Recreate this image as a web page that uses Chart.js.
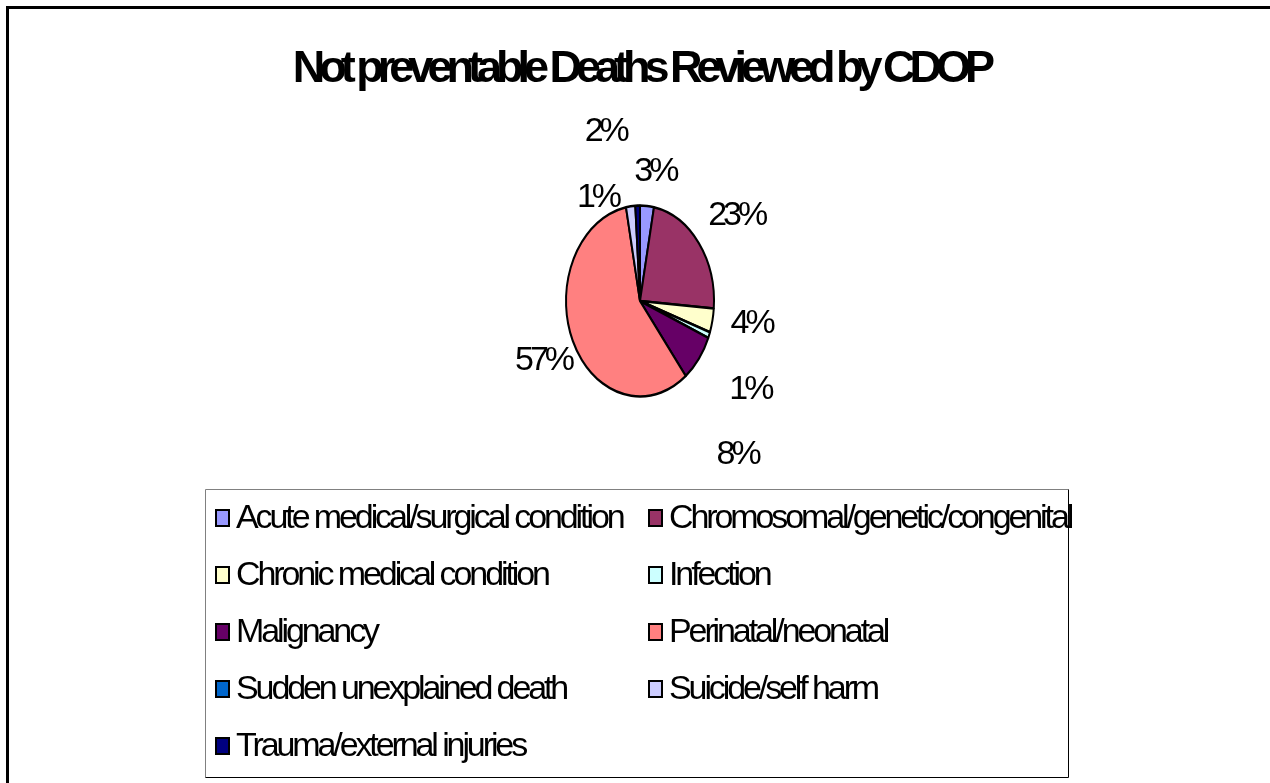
<!DOCTYPE html>
<html>
<head>
<meta charset="utf-8">
<script src="https://cdn.jsdelivr.net/npm/chart.js@4/dist/chart.umd.min.js"></script>
<style>
  html, body { margin: 0; padding: 0; background: #fff; }
  #wrap { width: 1270px; height: 783px; }
</style>
</head>
<body>
<div id="wrap"><canvas id="pieChart01"></canvas></div>
<script>
// CDOP not preventable deaths pie

const chartTitle = 'Not preventable Deaths Reviewed by CDOP';
const categories = [
    'Acute medical/surgical condition', 'Chromosomal/genetic/congenital',
    'Chronic medical condition', 'Infection', 'Malignancy', 'Perinatal/neonatal',
    'Sudden unexplained death', 'Suicide/self harm', 'Trauma/external injuries'
];
const percentValues = [3, 23, 4, 1, 8, 57, 0, 2, 1];
const sliceColors = ['#9999FF', '#993366', '#FFFFCC', '#CCFFFF', '#660066', '#FF8080', '#0066CC', '#CCCCFF', '#000080'];

// where excel dropped each % label: [angle shift in deg, distance as share of radius]
const labelPlace = [[3, 1.37], [2.6, 1.58], [-3, 1.52], [11, 1.75], [13.6, 2.08], [-0.8, 1.45], [0, 0], [-7.5, 1.84], [-26, 1.23]];

const FONT = '"Liberation Sans", Arial, sans-serif';
const Y_SCALE = 1.29;

function spacedText(ctx, text, x, y, spacing, align) {
    ctx.letterSpacing = spacing + 'px';
    ctx.textAlign = align || 'left';
    ctx.fillText(text, x, y);
    ctx.letterSpacing = '0px';
}

const framePlugin = {
    id: 'frame',
    beforeDraw(chart) {
        const ctx = chart.ctx;
        ctx.save();
        ctx.fillStyle = '#fff';
        ctx.fillRect(0, 0, chart.width, chart.height);
        ctx.strokeStyle = '#000';
        ctx.lineWidth = 3;
        ctx.beginPath();
        ctx.moveTo(7.5, chart.height);
        ctx.lineTo(7.5, 7.5);
        ctx.lineTo(chart.width, 7.5);
        ctx.stroke();
        ctx.fillStyle = '#000';
        ctx.font = 'bold 45px ' + FONT;
        ctx.textBaseline = 'middle';
        spacedText(ctx, chartTitle, 641, 70, -6, 'center');
        ctx.restore();
    }
};

// squash the round pie into the tall excel ellipse
const ellipsePlugin = {
    id: 'ellipse',
    beforeDatasetsDraw(chart) {
        const arc = chart.getDatasetMeta(0).data[0];
        const ctx = chart.ctx;
        ctx.save();
        ctx.translate(arc.x, arc.y);
        ctx.scale(1, Y_SCALE);
        ctx.translate(-arc.x, -arc.y);
    },
    afterDatasetsDraw(chart) {
        chart.ctx.restore();
    }
};

const pctLabelPlugin = {
    id: 'pctLabels',
    afterDatasetsDraw(chart) {
        const ctx = chart.ctx;
        const values = chart.data.datasets[0].data;
        ctx.save();
        ctx.fillStyle = '#000';
        ctx.font = '34px ' + FONT;
        ctx.textBaseline = 'middle';
        chart.getDatasetMeta(0).data.forEach((arc, i) => {
            if (!values[i]) return;
            const mid = (arc.startAngle + arc.endAngle) / 2 + labelPlace[i][0] * Math.PI / 180;
            const r = arc.outerRadius * labelPlace[i][1];
            const x = arc.x + Math.cos(mid) * r;
            const y = arc.y + Math.sin(mid) * r * Y_SCALE;
            spacedText(ctx, values[i] + '%', x, y, -4, 'center');
        });
        ctx.restore();
    }
};

const boxLegendPlugin = {
    id: 'boxLegend',
    afterDraw(chart) {
        const ctx = chart.ctx;
        const left = 205.5, top = 489.5, right = 1068.5, bottom = 777.5;
        ctx.save();
        ctx.lineWidth = 1;
        ctx.strokeStyle = '#808080';
        ctx.beginPath();
        ctx.moveTo(left, bottom); ctx.lineTo(left, top); ctx.lineTo(right, top);
        ctx.stroke();
        ctx.strokeStyle = '#000';
        ctx.beginPath();
        ctx.moveTo(right, top); ctx.lineTo(right, bottom); ctx.lineTo(left, bottom);
        ctx.stroke();

        ctx.font = '34px ' + FONT;
        ctx.textBaseline = 'middle';
        const colX = [216, 649];
        chart.data.labels.forEach((lab, i) => {
            const cx = colX[i % 2];
            const cy = 518 + Math.floor(i / 2) * 57;
            ctx.fillStyle = chart.data.datasets[0].backgroundColor[i];
            ctx.fillRect(cx, cy - 8, 13, 16);
            ctx.lineWidth = 2;
            ctx.strokeStyle = '#000';
            ctx.strokeRect(cx, cy - 8, 13, 16);
            ctx.fillStyle = '#000';
            spacedText(ctx, lab, cx + 20, cy + 1, -3.1, 'left');
        });
        ctx.restore();
    }
};

const chartE = document.getElementById('pieChart01');
const pieChart01 = new Chart(chartE, {
    type: 'pie',
    data: {
        labels: categories,
        datasets: [{
            data: percentValues,
            backgroundColor: sliceColors,
            borderColor: '#000',
            borderWidth: 2,
            radius: 74,
            clip: false
        }]
    },
    options: {
        responsive: true,
        maintainAspectRatio: false,
        animation: false,
        events: [],
        layout: {
            padding: { left: 10, right: 0, top: 200, bottom: 381 }
        },
        plugins: {
            legend: { display: false },
            title: { display: false },
            tooltip: { enabled: false }
        }
    },
    plugins: [framePlugin, ellipsePlugin, pctLabelPlugin, boxLegendPlugin]
});
</script>
</body>
</html>
